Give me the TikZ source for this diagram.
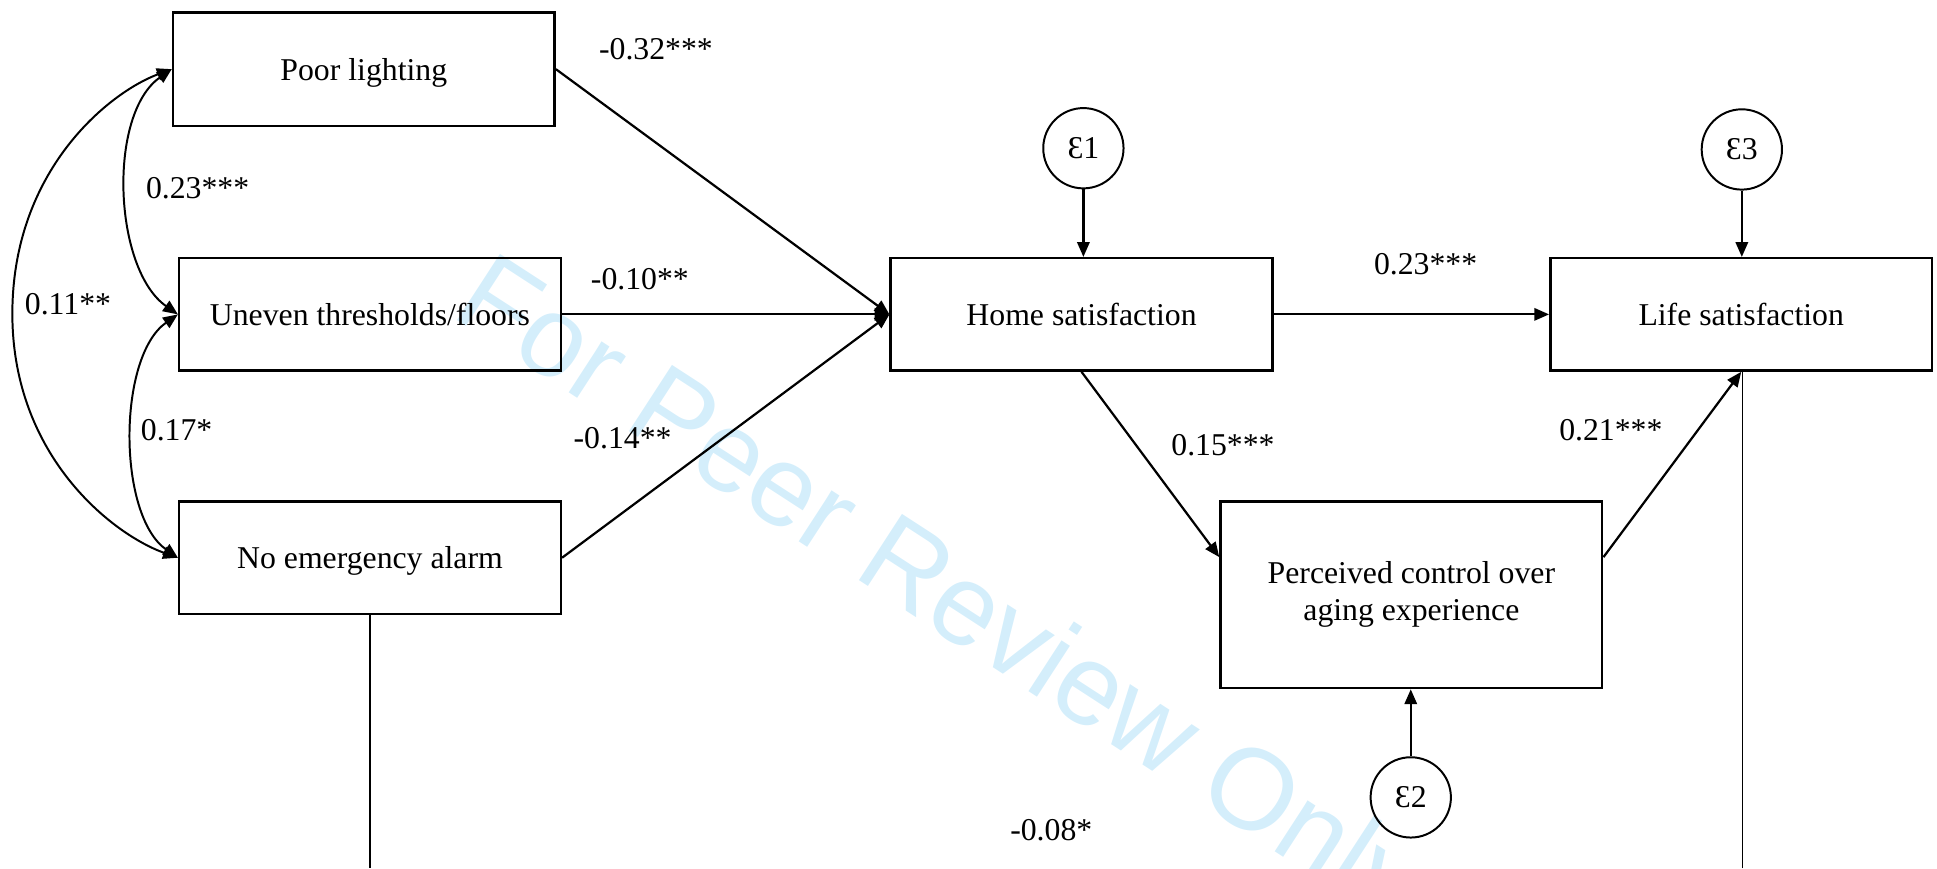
\documentclass[tikz,border=0pt]{standalone}
\usepackage{fontspec}
\setmainfont{Liberation Serif}
\newfontfamily\wmfont{Liberation Sans}
\usetikzlibrary{arrows.meta}
\definecolor{wmblue}{RGB}{212,238,251}
\begin{document}
\begin{tikzpicture}[x=1pt,y=1pt,
  font=\fontsize{25.7}{30}\selectfont,
  box/.style={draw, line width=2pt, minimum width=309pt, minimum height=91pt, inner sep=0pt, align=center},
  onebox/.style={box, text depth=0pt},
  err/.style={draw, circle, line width=1.6pt, minimum size=65pt, inner sep=0pt},
  tip/.style={-{Triangle[length=12pt,width=10pt]}},
  pth/.style={line width=1.8pt, tip},
  cov/.style={line width=1.6pt, {Triangle[length=12pt,width=10pt]}-{Triangle[length=12pt,width=10pt]}},
  thinline/.style={line width=1pt},
  lab/.style={inner sep=0pt}
]
\useasboundingbox (0,0) rectangle (1568,703);
\begin{scope}
  \clip (0,0) rectangle (1568,703);
  \node[rotate=-33, anchor=base west, text=wmblue, inner sep=0pt,
        font=\wmfont\fontsize{93}{100}\selectfont] (wm) at (364,448) {For Peer Review Only};
\end{scope}

% boxes
\node[onebox, minimum height=92pt] (pl) at (294.5,647) {Poor lighting};
\node[onebox] (ut) at (299.5,448.5) {Uneven thresholds/floors};
\node[onebox] (ne) at (299.5,251.5) {No emergency alarm};
\node[onebox] (hs) at (875.5,448.5) {Home satisfaction};
\node[onebox] (ls) at (1409.5,448.5) {Life satisfaction};
\node[box, minimum height=151pt] (pc) at (1142.5,221.5) {Perceived control over\\aging experience};

% error terms
\node[err] (e1) at (877,583) {Ɛ1};
\node[err] (e3) at (1410,582) {Ɛ3};
\node[err] (e2) at (1142,57.5) {Ɛ2};

% coordinates at the lower edge
\coordinate (neb) at (299.5,0);
\coordinate (lsb) at (1410.5,0);

% paths
\draw[pth] (pl.east) -- (hs.west);
\draw[pth] (ut.east) -- (hs.west);
\draw[pth] (ne.east) -- (hs.west);
\draw[pth] (hs.east) -- (ls.west);
\draw[pth] (hs.south) -- ([yshift=30.5pt]pc.west);
\draw[pth] ([yshift=30.5pt]pc.east) -- (ls.south);
\draw[pth] (e1.south) -- (e1 |- hs.north);
\draw[pth] (e3.south) -- (e3 |- ls.north);
\draw[pth] (e2.north) -- (e2 |- pc.south);

% thin lines running off the bottom
\draw[thinline] (ne.south) -- (neb);
\draw[thinline] (lsb) -- ([xshift=1pt]ls.south);

% covariances
\draw[cov] (pl.west) to[out=215, in=145, looseness=0.82] (ut.west);
\draw[cov] (ut.west) to[out=215, in=145, looseness=0.78] (ne.west);
\draw[cov] (pl.west) .. controls (88,628) and (10,565) .. (10,449)
                     .. controls (10,333) and (92,270) .. (ne.west);

% labels
\node[lab] (l1) at (531,663) {-0.32***};
\node[lab] (l2) at (160,551) {0.23***};
\node[lab] (l3) at (55,457) {0.11**};
\node[lab] (l4) at (518,477) {-0.10**};
\node[lab] (l5) at (143,355) {0.17*};
\node[lab] (l6) at (504,348) {-0.14**};
\node[lab] (l7) at (1154,489) {0.23***};
\node[lab] (l8) at (990,343) {0.15***};
\node[lab] (l9) at (1304,355) {0.21***};
\node[lab] (l10) at (851,31) {-0.08*};
\end{tikzpicture}
\end{document}
